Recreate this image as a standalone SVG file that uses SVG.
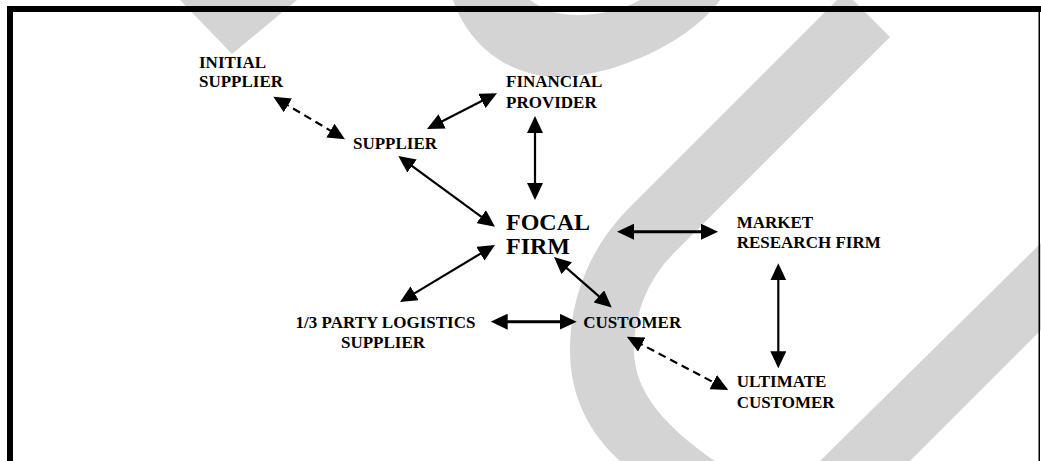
<svg xmlns="http://www.w3.org/2000/svg" width="1041" height="461" viewBox="0 0 1041 461">
<style>
.lbl{font-family:"Liberation Serif","Times New Roman",serif;font-weight:bold;font-size:17px;fill:#000}
.big{font-size:24px}
.wm{fill:#d4d4d4}
.c{stroke:#000;stroke-width:2.2;fill:none}
.thick{stroke-width:3}
.dash{stroke-dasharray:8 5}
</style>
<defs>
<marker id="ah" markerUnits="userSpaceOnUse" markerWidth="17" markerHeight="16" refX="7" refY="8" orient="auto-start-reverse" viewBox="0 0 17 16">
<path d="M0,0 L17,8 L0,16 Z" fill="#000"/>
</marker>
</defs>
<rect width="1041" height="461" fill="#fff"/>
<g id="watermark">
<path class="wm" d="M180,0 L297,0 L232,54 Z"/>
<path class="wm" fill-rule="evenodd" d="M453,0 C470,50 515,78 560,77 C615,76 690,42 720,0 Z M530,0 C545,11 560,15 577,15 C600,15 625,9 640,0 Z"/>
<path class="wm" d="M837,0 L628.5,208.5 A200,200 0 0 0 570,350 C570,395 588,432 620,461 L715,461 C670,430 634,395 634,350 A136,136 0 0 1 673.5,253.5 L890,37 L853,0 Z"/>
<path class="wm" d="M1041,243 L1041,330 L910,461 L820,461 Z"/>
</g>
<g id="frame">
<rect x="7" y="6" width="1034" height="6" fill="#000"/>
<rect x="7" y="6" width="6" height="455" fill="#000"/>
<rect x="1038.5" y="12" width="1.5" height="449" fill="#000"/>
</g>
<g id="connectors">
<line class="c dash" x1="281.9" y1="101.8" x2="336.4" y2="134.2" marker-start="url(#ah)" marker-end="url(#ah)"/>
<line class="c" x1="435.9" y1="124.5" x2="488.1" y2="97.8" marker-start="url(#ah)" marker-end="url(#ah)"/>
<line class="c" x1="535" y1="126" x2="535" y2="190" marker-start="url(#ah)" marker-end="url(#ah)"/>
<line class="c" x1="406.4" y1="161.9" x2="486.9" y2="220.8" marker-start="url(#ah)" marker-end="url(#ah)"/>
<line class="c thick" x1="627" y1="231.7" x2="708" y2="231.7" marker-start="url(#ah)" marker-end="url(#ah)"/>
<line class="c" x1="486.4" y1="250.1" x2="408.6" y2="296.9" marker-start="url(#ah)" marker-end="url(#ah)"/>
<line class="c" x1="561.5" y1="263.6" x2="604.2" y2="300.9" marker-start="url(#ah)" marker-end="url(#ah)"/>
<line class="c thick" x1="500.7" y1="321.7" x2="566.7" y2="321.7" marker-start="url(#ah)" marker-end="url(#ah)"/>
<line class="c dash" x1="635.6" y1="341.3" x2="719.4" y2="385.4" marker-start="url(#ah)" marker-end="url(#ah)"/>
<line class="c" x1="778.3" y1="273.3" x2="778.3" y2="358.3" marker-start="url(#ah)" marker-end="url(#ah)"/>
</g>
<g id="initial-supplier"><text class="lbl" x="199" y="68.3">INITIAL</text><text class="lbl" x="199" y="87.3">SUPPLIER</text></g>
<g id="financial-provider"><text class="lbl" x="506" y="87.3">FINANCIAL</text><text class="lbl" x="506" y="108.3">PROVIDER</text></g>
<g id="supplier"><text class="lbl" x="353" y="149">SUPPLIER</text></g>
<g id="focal-firm"><text class="lbl big" x="506" y="230">FOCAL</text><text class="lbl big" x="506" y="254">FIRM</text></g>
<g id="market-research-firm"><text class="lbl" x="736.7" y="228.3">MARKET</text><text class="lbl" x="736.7" y="248.3">RESEARCH FIRM</text></g>
<g id="logistics-supplier"><text class="lbl" text-anchor="middle" x="385.5" y="328.3">1/3 PARTY LOGISTICS</text><text class="lbl" text-anchor="middle" x="383" y="348.3">SUPPLIER</text></g>
<g id="customer"><text class="lbl" x="583.3" y="328.3">CUSTOMER</text></g>
<g id="ultimate-customer"><text class="lbl" x="736.7" y="387.3">ULTIMATE</text><text class="lbl" x="736.7" y="408.3">CUSTOMER</text></g>
</svg>
